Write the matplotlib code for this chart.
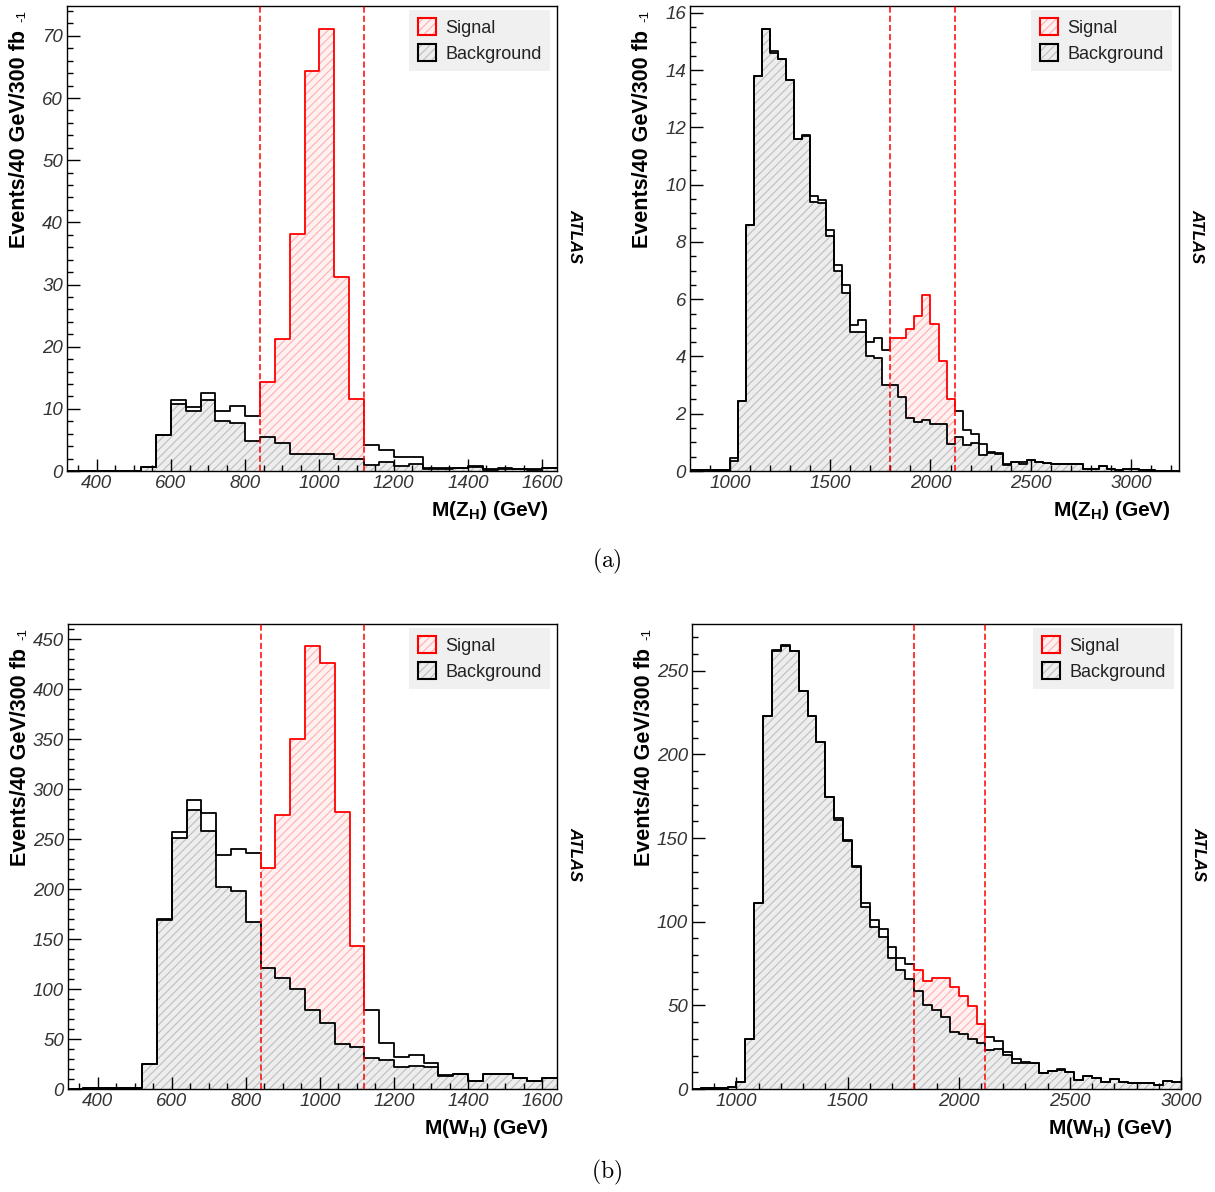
import numpy as np
import matplotlib.pyplot as plt
from matplotlib.patches import Patch
from matplotlib.legend_handler import HandlerTuple

plt.rcParams['font.family'] = ['Liberation Sans', 'DejaVu Sans']
plt.rcParams['mathtext.fontset'] = 'custom'
plt.rcParams['mathtext.rm'] = 'Liberation Sans'
plt.rcParams['mathtext.bf'] = 'Liberation Sans:bold'
plt.rcParams['mathtext.it'] = 'Liberation Sans:italic'
plt.rcParams['hatch.linewidth'] = 0.8

BIN = 40  # GeV per bin

# --- (a) left: M(Z_H), bins of 40 GeV starting at 320
zl_start = 320
zl_bg = [0, 0, 0, 0, 0, 0.65, 5.8, 10.7, 9.6, 11.4, 8.1, 7.7, 4.9, 5.4, 4.45, 2.7,
         2.7, 2.7, 1.85, 1.85, 0.9, 1.5, 0.8, 1.1, 0.4, 0.4, 0.55, 0.6, 0.2, 0.4,
         0.4, 0.2, 0.5]
zl_tot = [0, 0, 0, 0, 0, 0.65, 5.8, 11.4, 10.3, 12.6, 9.6, 10.5, 8.9, 14.3, 21.2,
          38.2, 64.3, 71.1, 31.2, 11.6, 4.2, 3.3, 2.3, 2.3, 0.55, 0.5, 0.55, 0.75,
          0.25, 0.45, 0.4, 0.3, 0.5]
zl_window = [840, 1120]

# --- (a) right: M(Z_H), bins of 40 GeV starting at 800
zr_start = 800
zr_bg = [0.02, 0.02, 0.02, 0.02, 0.05, 0.35, 2.43, 8.6, 13.8, 15.45, 14.6, 14.4,
         13.67, 11.6, 11.7, 9.4, 9.37, 8.2, 7.0, 6.2, 4.85, 4.87, 4.0, 3.93, 3.0,
         3.0, 2.57, 1.84, 1.72, 1.78, 1.64, 1.64, 0.94, 1.2, 0.91, 0.97, 0.57,
         0.63, 0.6, 0.21, 0.3, 0.26, 0.38, 0.3, 0.27, 0.24, 0.24, 0.24, 0.26,
         0.06, 0.06, 0.18, 0.08, 0.02, 0.06, 0.07, 0.05, 0.05, 0.0, 0.0, 0.0]
zr_tot = [0.02, 0.02, 0.02, 0.02, 0.05, 0.47, 2.43, 8.6, 13.8, 15.45, 14.67, 14.4,
          13.67, 11.6, 11.75, 9.6, 9.47, 8.4, 7.2, 6.5, 5.1, 5.27, 4.52, 4.66, 4.23,
          4.63, 4.63, 4.95, 5.41, 6.13, 5.13, 3.85, 2.51, 2.1, 1.44, 1.3, 0.95,
          0.65, 0.62, 0.24, 0.33, 0.33, 0.4, 0.3, 0.27, 0.24, 0.24, 0.24, 0.26,
          0.06, 0.06, 0.18, 0.08, 0.02, 0.06, 0.07, 0.05, 0.05, 0.0, 0.0, 0.0]
zr_window = [1800, 2120]

# --- (b) left: M(W_H)
wl_start = 320
wl_bg = [0.5, 0.7, 0.7, 0.7, 0.7, 25, 169, 250.7, 279, 258, 202, 198, 167, 121,
         111, 99.7, 79, 65.7, 44.7, 42.3, 30.7, 29, 21.7, 23.3, 21.7, 13.3, 14.7,
         8.3, 14.7, 14.7, 11.3, 8.3, 11.3]
wl_tot = [0.5, 0.7, 0.7, 0.7, 0.7, 25, 170, 256.7, 289, 276, 233.7, 240, 236,
          220.7, 273.7, 350, 443, 425.7, 277, 143, 79, 46.3, 31.7, 34, 26.3, 14,
          14.7, 8.3, 14.7, 14.7, 11.3, 8.3, 11.3]
wl_window = [840, 1120]

# --- (b) right: M(W_H)
wr_start = 800
wr_bg = [0.2, 0.4, 0.4, 0.5, 1.4, 4.4, 29.7, 111.4, 223, 261.6, 265, 262, 238,
         222.7, 207.5, 174.8, 160.9, 148, 132.6, 109, 97, 90.6, 78.3, 71.1, 65.7,
         58.8, 50, 47.2, 43.2, 34.1, 32.7, 29.7, 27.3, 23.3, 23.9, 20.3, 15.7,
         15.3, 15.5, 9.6, 10.8, 11.6, 10.2, 5.4, 8.0, 6.4, 4.2, 5.8, 4.2, 3.8,
         3.8, 3.8, 2.4, 4.6, 4.0]
wr_tot = [0.2, 0.4, 0.4, 0.5, 1.4, 4.4, 29.7, 111.4, 223, 262.5, 265.5, 262, 238,
          222.7, 207.5, 174.8, 161.9, 149, 133.6, 111.4, 101, 95.4, 84.7, 78.3,
          74.5, 71.1, 64.7, 66.5, 66.5, 60.8, 55.6, 49.8, 38.8, 31.3, 28.7, 22.3,
          17.7, 16.3, 15.7, 9.8, 11.0, 11.8, 10.4, 5.4, 8.0, 6.4, 4.2, 5.8, 4.2,
          3.8, 3.8, 3.8, 2.4, 4.6, 4.0]
wr_window = [1800, 2120]

xticks_low = [400, 600, 800, 1000, 1200, 1400, 1600]
xticks_high = [1000, 1500, 2000, 2500, 3000]
yticks_zl = [0, 10, 20, 30, 40, 50, 60, 70]
yticks_zr = [0, 2, 4, 6, 8, 10, 12, 14, 16]
yticks_wl = [0, 50, 100, 150, 200, 250, 300, 350, 400, 450]
yticks_wr = [0, 50, 100, 150, 200, 250]

W, H = 1215, 1192
fig = plt.figure(figsize=(W / 100, H / 100), dpi=100)


def steps(edges, vals):
    x = np.repeat(edges, 2)[1:-1]
    y = np.repeat(vals, 2)
    return x, y


def panel(box, start, bg, tot, window, xlim, ylim, xticks, xminor, yticks,
          yminor, xlabel):
    l, t, r, b = box
    ax = fig.add_axes([l / W, 1 - b / H, (r - l) / W, (b - t) / H])
    bg = np.asarray(bg, float)
    tot = np.asarray(tot, float)
    edges = start + BIN * np.arange(len(bg) + 1)
    i0, i1 = np.searchsorted(edges, window)

    # signal inside the mass window, stacked on background
    ax.stairs(tot[i0:i1], edges[i0:i1 + 1], baseline=bg[i0:i1], fill=True,
              facecolor='#fff1f1', edgecolor='#ffb0b0', hatch='////', lw=0,
              zorder=1)
    ax.stairs(bg, edges, baseline=0, fill=True, facecolor='#ededed',
              edgecolor='#bdbdbd', hatch='////', lw=0, zorder=1)

    ax.plot(*steps(edges[:i0 + 1], tot[:i0]), color='black', lw=1.3, zorder=3)
    ax.plot(*steps(edges[i1:], tot[i1:]), color='black', lw=1.3, zorder=3)
    ax.plot(*steps(edges, bg), color='black', lw=1.3, zorder=3)
    xs, ys = steps(edges[i0:i1 + 1], tot[i0:i1])
    xs = np.r_[edges[i0], xs, edges[i1]]
    ys = np.r_[tot[i0 - 1], ys, tot[i1]]
    ax.plot(xs, ys, color='red', lw=1.3, zorder=4)

    for w in window:
        ax.axvline(w, color='red', ls=(0, (4, 2)), lw=1.1, zorder=5)

    ax.set_xlim(*xlim)
    ax.set_ylim(*ylim)
    ax.set_xticks(xticks, labels=[str(v) for v in xticks], fontstyle='italic')
    ax.set_yticks(yticks, labels=[str(v) for v in yticks], fontstyle='italic')
    ax.set_xticks(np.arange(xlim[0] - xlim[0] % xminor + xminor, xlim[1], xminor),
                  minor=True)
    ax.set_yticks(np.arange(0, ylim[1], yminor), minor=True)
    ax.tick_params(which='both', direction='in', top=False, right=False,
                   labelsize=13.5, labelcolor='#333333', pad=3)
    ax.tick_params(which='major', length=9, width=1)
    ax.tick_params(which='minor', length=4.5, width=1)
    for s in ax.spines.values():
        s.set_linewidth(1.0)

    sig_h = (Patch(facecolor='#fff1f1', edgecolor='#ffb0b0', hatch='////', lw=0),
             Patch(facecolor='none', edgecolor='red', lw=1.5))
    bkg_h = (Patch(facecolor='#ededed', edgecolor='#bdbdbd', hatch='////', lw=0),
             Patch(facecolor='none', edgecolor='black', lw=1.5))
    leg = ax.legend([sig_h, bkg_h], ['Signal', 'Background'], loc='upper right',
                    bbox_to_anchor=(1 - 7 / (r - l), 1 - 4 / (b - t)),
                    borderaxespad=0, fancybox=False, framealpha=1,
                    facecolor='#f0f0f0', edgecolor='none', fontsize=13,
                    handlelength=1.05, handleheight=1.05, handletextpad=0.5,
                    borderpad=0.45, labelspacing=0.42,
                    handler_map={tuple: HandlerTuple(ndivide=1)})
    for txt in leg.get_texts():
        txt.set_color('#222222')
    leg.set_zorder(6)

    fig.text((l - 47) / W, 1 - (t + 24) / H, 'Events/40 GeV/300 fb',
             rotation=90, ha='center', va='top', fontsize=15.5,
             fontweight='bold')
    fig.text((l - 45) / W, 1 - (t + 10) / H, '-1', rotation=90, ha='center',
             va='center', fontsize=9.5)
    fig.text((r + 18) / W, 1 - (t + 230) / H, 'ATLAS', rotation=-90,
             ha='center', va='center', fontsize=12, fontweight='bold',
             fontstyle='italic')
    fig.text((r - 8) / W, 1 - (b + 40) / H, xlabel, ha='right', va='center',
             fontsize=15)
    return ax


panel((67, 6, 557, 471), zl_start, zl_bg, zl_tot, zl_window, (320, 1640),
      (0, 74.8), xticks_low, 50, yticks_zl, 2, r'$\mathbf{M(Z_{H})\ (GeV)}$')
panel((690, 6, 1179, 471), zr_start, zr_bg, zr_tot, zr_window, (800, 3240),
      (0, 16.24), xticks_high, 100, yticks_zr, 0.5, r'$\mathbf{M(Z_{H})\ (GeV)}$')
panel((68, 624, 557, 1089), wl_start, wl_bg, wl_tot, wl_window, (320, 1640),
      (0, 465), xticks_low, 50, yticks_wl, 10, r'$\mathbf{M(W_{H})\ (GeV)}$')
panel((692, 624, 1181, 1089), wr_start, wr_bg, wr_tot, wr_window, (800, 3000),
      (0, 278), xticks_high, 100, yticks_wr, 10, r'$\mathbf{M(W_{H})\ (GeV)}$')

fig.text(607 / W, 1 - 561 / H, r'$\mathrm{(a)}$', math_fontfamily='cm',
         fontsize=17, ha='center', va='center')
fig.text(607 / W, 1 - 1172 / H, r'$\mathrm{(b)}$', math_fontfamily='cm',
         fontsize=17, ha='center', va='center')

fig.savefig('out.png', dpi=100)
